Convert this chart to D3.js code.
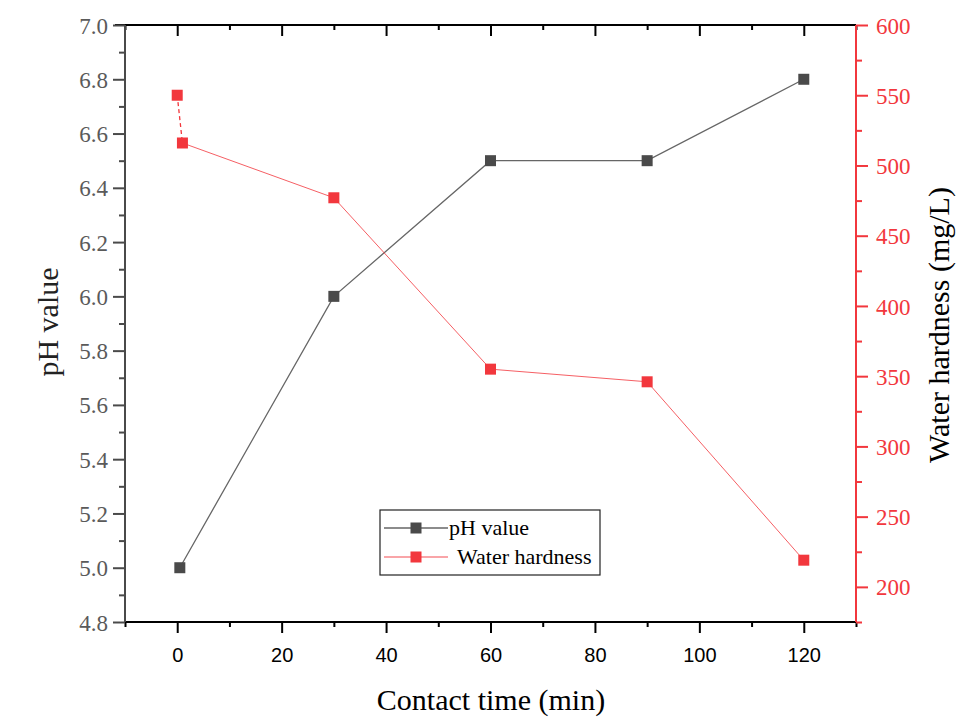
<!DOCTYPE html>
<html>
<head>
<meta charset="utf-8">
<script src="https://cdn.jsdelivr.net/npm/d3@7"></script>
<style>
    body { margin: 0; background: #fff; }
</style>
</head>
<body>
<svg id="chart" width="970" height="726"></svg>
<script>
// values
const phTime = [0.5, 30, 60, 90, 120];
const phValue = [5.0, 6.0, 6.5, 6.5, 6.8];
const hardTime = [0, 1, 30, 60, 90, 120];
const hardValue = [550, 516, 477, 355, 346, 219];

const xTicks = [0, 20, 40, 60, 80, 100, 120];
const phTicks = [4.8, 5.0, 5.2, 5.4, 5.6, 5.8, 6.0, 6.2, 6.4, 6.6, 6.8, 7.0];
const hardTicks = [200, 250, 300, 350, 400, 450, 500, 550, 600];

const plotL = 125, plotR = 856, plotT = 25, plotB = 622;
const grey = '#4a4a4a', red = '#f2373d';
const serif = '"Liberation Serif", "Times New Roman", serif';
const sans = '"Liberation Sans", Arial, sans-serif';

const svg = d3.select('#chart');

const x = d3.scaleLinear().domain([-10, 130]).range([plotL, plotR]);
const yL = d3.scaleLinear().domain([4.8, 7.0]).range([plotB, plotT]);
const yR = d3.scaleLinear().domain([175, 600]).range([plotB, plotT]);

drawAxes();
drawSeries();
drawLegend();

function drawAxes () {
    const xAll = d3.range(-10, 131, 10);

    // bottom axis
    const gx = svg.append('g').attr('transform', 'translate(0,' + plotB + ')');
    gx.call(d3.axisBottom(x).tickValues(xAll).tickSize(5).tickFormat(''));
    gx.selectAll('.tick').filter(d => xTicks.includes(d)).select('line').attr('y2', 11);
    gx.selectAll('.tick').filter(d => xTicks.includes(d)).append('text')
        .attr('y', 40)
        .attr('text-anchor', 'middle')
        .style('font-family', sans)
        .style('font-size', '20px')
        .attr('fill', '#000')
        .text(d => d);
    gx.select('.domain').attr('d', 'M' + plotL + ',0H' + plotR);
    gx.selectAll('line, path').attr('stroke', '#000').attr('stroke-width', 2);

    // top axis, ticks pointing in
    const gt = svg.append('g').attr('transform', 'translate(0,' + plotT + ')');
    gt.call(d3.axisBottom(x).tickValues(xAll).tickSize(5).tickFormat(''));
    gt.selectAll('.tick').filter(d => xTicks.includes(d)).select('line').attr('y2', 11);
    gt.select('.domain').attr('d', 'M' + (plotL - 10) + ',0H' + plotR);
    gt.selectAll('line, path').attr('stroke', '#000').attr('stroke-width', 2);

    // left axis
    const gl = svg.append('g').attr('transform', 'translate(' + plotL + ',0)');
    gl.call(d3.axisLeft(yL).tickValues(d3.range(48, 71, 1).map(v => v / 10)).tickSize(6).tickFormat(''));
    const lMajor = gl.selectAll('.tick').filter(d => phTicks.some(t => Math.abs(t - d) < 1e-6));
    lMajor.select('line').attr('x2', -12);
    lMajor.append('text')
        .attr('x', -17)
        .attr('dy', '0.35em')
        .attr('text-anchor', 'end')
        .style('font-family', serif)
        .style('font-size', '23px')
        .attr('fill', '#5a5a5a')
        .text(d => d3.format('.1f')(d));
    gl.select('.domain').attr('d', 'M0,' + plotB + 'V' + plotT);
    gl.selectAll('line, path').attr('stroke', grey).attr('stroke-width', 2);

    // right axis
    const gr = svg.append('g').attr('transform', 'translate(' + plotR + ',0)');
    gr.call(d3.axisRight(yR).tickValues(d3.range(175, 601, 25)).tickSize(6).tickFormat(''));
    const rMajor = gr.selectAll('.tick').filter(d => hardTicks.includes(d));
    rMajor.select('line').attr('x2', 12);
    rMajor.append('text')
        .attr('x', 20)
        .attr('dy', '0.35em')
        .attr('text-anchor', 'start')
        .style('font-family', serif)
        .style('font-size', '23px')
        .attr('fill', red)
        .text(d => d);
    gr.select('.domain').attr('d', 'M0,' + plotB + 'V' + plotT);
    gr.selectAll('line, path').attr('stroke', red).attr('stroke-width', 2);

    // titles
    svg.append('text')
        .attr('x', 491)
        .attr('y', 710)
        .attr('text-anchor', 'middle')
        .style('font-family', serif)
        .style('font-size', '30px')
        .attr('fill', '#000')
        .text('Contact time (min)');

    svg.append('text')
        .attr('transform', 'translate(58,322) rotate(-90)')
        .attr('text-anchor', 'middle')
        .style('font-family', serif)
        .style('font-size', '30px')
        .attr('fill', '#222')
        .text('pH value');

    svg.append('text')
        .attr('transform', 'translate(949,325) rotate(-90)')
        .attr('text-anchor', 'middle')
        .style('font-family', serif)
        .style('font-size', '30px')
        .attr('fill', '#000')
        .text('Water hardness (mg/L)');
}

function drawSeries () {
    const ph = phTime.map((t, i) => [t, phValue[i]]);
    const hard = hardTime.map((t, i) => [t, hardValue[i]]);

    svg.append('path')
        .datum(ph)
        .attr('fill', 'none')
        .attr('stroke', '#666')
        .attr('stroke-width', 1.3)
        .attr('d', d3.line().x(d => x(d[0])).y(d => yL(d[1])));

    // first hardness segment is dashed
    svg.append('path')
        .datum(hard.slice(0, 2))
        .attr('fill', 'none')
        .attr('stroke', red)
        .attr('stroke-width', 1.3)
        .attr('stroke-dasharray', '4,3')
        .attr('d', d3.line().x(d => x(d[0])).y(d => yR(d[1])));

    svg.append('path')
        .datum(hard.slice(1))
        .attr('fill', 'none')
        .attr('stroke', red)
        .attr('stroke-opacity', 0.8)
        .attr('stroke-width', 1)
        .attr('d', d3.line().x(d => x(d[0])).y(d => yR(d[1])));

    const s = 11;
    svg.append('g').selectAll('rect').data(ph).join('rect')
        .attr('x', d => x(d[0]) - s / 2)
        .attr('y', d => yL(d[1]) - s / 2)
        .attr('width', s).attr('height', s)
        .attr('fill', grey);

    svg.append('g').selectAll('rect').data(hard).join('rect')
        .attr('x', d => x(d[0]) - s / 2)
        .attr('y', d => yR(d[1]) - s / 2)
        .attr('width', s).attr('height', s)
        .attr('fill', red);
}

function drawLegend () {
    const lg = svg.append('g').attr('transform', 'translate(380,510)');
    lg.append('rect')
        .attr('width', 220).attr('height', 65)
        .attr('fill', '#fff')
        .attr('stroke', '#222')
        .attr('stroke-width', 1.2);

    const items = [
        { label: 'pH value', color: grey, line: '#666', y: 18, tx: 69 },
        { label: 'Water hardness', color: red, line: red, y: 47, tx: 77 }
    ];
    items.forEach(it => {
        lg.append('line')
            .attr('x1', 4).attr('x2', 68)
            .attr('y1', it.y).attr('y2', it.y)
            .attr('stroke', it.line)
            .attr('stroke-opacity', it.color === red ? 0.6 : 1)
            .attr('stroke-width', 1.3);
        lg.append('rect')
            .attr('x', 36 - 5.5).attr('y', it.y - 5.5)
            .attr('width', 11).attr('height', 11)
            .attr('fill', it.color);
        lg.append('text')
            .attr('x', it.tx).attr('y', it.y + 7)
            .style('font-family', serif)
            .style('font-size', '22px')
            .attr('fill', '#000')
            .text(it.label);
    });
}
</script>
</body>
</html>
